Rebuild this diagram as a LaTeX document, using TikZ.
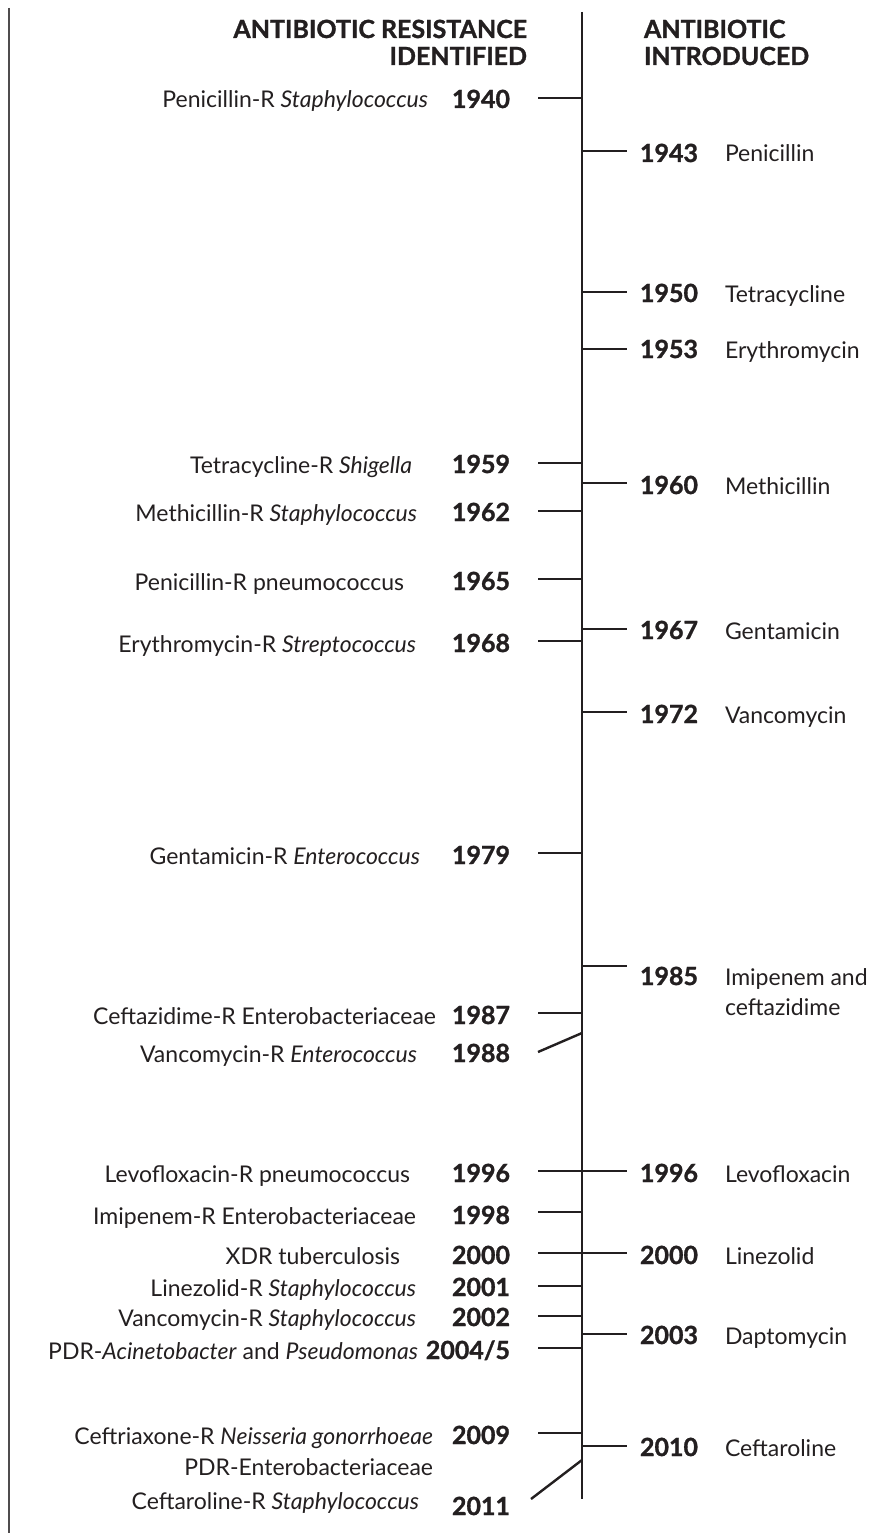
\documentclass[tikz,border=0pt]{standalone}
\usepackage{fontspec}
\setmainfont{Lato}
\newfontfamily\heavyfont{Lato}[FakeBold=1.2]
\definecolor{ink}{HTML}{231F20}
\tikzset{
  lab/.style={inner sep=0pt, outer sep=0pt, text=ink, font=\fontsize{23}{27}\selectfont},
  yr/.style={inner sep=0pt, outer sep=0pt, text=ink, font=\fontsize{25}{29}\heavyfont\bfseries},
  hd/.style={inner sep=0pt, outer sep=0pt, text=ink, font=\fontsize{25}{29}\heavyfont\bfseries},
  tickline/.style={draw=ink, line width=2.4pt},
  axisline/.style={draw=ink, line width=2.6pt},
  borderline/.style={draw=ink!80, line width=1.6pt}
}
% left entry: #1 name, #2 label, #3 label right x, #4 baseline y, #5 year, #6 tick y
\newcommand\lentry[6]{%
  \node[lab, anchor=base east] (ll#1) at (#3,#4) {#2};
  \node[yr, anchor=base east] (ly#1) at (510,#4) {#5};
  \coordinate (la#1) at (582,#6);
  \coordinate (lb#1) at (538,#6);
  \draw[tickline] (la#1) -- (lb#1);}
% right entry: #1 name, #2 label, #3 baseline y, #4 year, #5 tick y
\newcommand\rentry[5]{%
  \node[yr, anchor=base west] (ry#1) at (640,#3) {#4};
  \node[lab, anchor=base west] (rl#1) at (725,#3) {#2};
  \coordinate (ra#1) at (582,#5);
  \coordinate (rb#1) at (627,#5);
  \draw[tickline] (ra#1) -- (rb#1);}
\begin{document}
\begin{tikzpicture}[x=1pt, y=-1pt]
\useasboundingbox (0,0) rectangle (870,1533);
\fill[white] (0,0) rectangle (870,1533);
% frame line and axis
\coordinate (bordertop) at (9,8);
\coordinate (borderbot) at (9,1533);
\draw[borderline] (bordertop) -- (borderbot);
\coordinate (axtop) at (582,12);
\coordinate (axbot) at (582,1499);
\draw[axisline] (axtop) -- (axbot);
% headers
\node[hd, anchor=base east] (hl1) at (527,38) {ANTIBIOTIC RESISTANCE};
\node[hd, anchor=base east] (hl2) at (527,65) {IDENTIFIED};
\node[hd, anchor=base west] (hr1) at (644,38) {ANTIBIOTIC};
\node[hd, anchor=base west] (hr2) at (644,65) {INTRODUCED};
% left side: resistance identified
\lentry{1940}{Penicillin-R \textit{Staphylococcus}}{428}{108}{1940}{98}
\lentry{1959}{Tetracycline-R \textit{Shigella}}{412}{473}{1959}{463}
\lentry{1962}{Methicillin-R \textit{Staphylococcus}}{417}{521}{1962}{511}
\lentry{1965}{Penicillin-R pneumococcus}{404}{590}{1965}{579}
\lentry{1968}{Erythromycin-R \textit{Streptococcus}}{416}{652}{1968}{641}
\lentry{1979}{Gentamicin-R \textit{Enterococcus}}{420}{864}{1979}{853}
\lentry{1987}{Ceftazidime-R Enterobacteriaceae}{436}{1024}{1987}{1013}
\node[lab, anchor=base east] (ll1988) at (417,1062) {Vancomycin-R \textit{Enterococcus}};
\node[yr, anchor=base east] (ly1988) at (510,1062) {1988};
\coordinate (la1988) at (582,1033);
\coordinate (lb1988) at (538,1052);
\draw[tickline] (la1988) -- (lb1988);
\lentry{1996}{Levofloxacin-R pneumococcus}{410}{1182}{1996}{1171}
\lentry{1998}{Imipenem-R Enterobacteriaceae}{416}{1224}{1998}{1212}
\lentry{2000}{XDR tuberculosis}{400}{1264}{2000}{1253}
\lentry{2001}{Linezolid-R \textit{Staphylococcus}}{416}{1296}{2001}{1286}
\lentry{2002}{Vancomycin-R \textit{Staphylococcus}}{416}{1326}{2002}{1316}
\lentry{2004}{PDR-\textit{Acinetobacter} and \textit{Pseudomonas}}{418}{1359}{2004/5}{1348}
\lentry{2009}{Ceftriaxone-R \textit{Neisseria gonorrhoeae}}{433}{1444}{2009}{1433}
\node[lab, anchor=base east] (llpdr) at (433,1475) {PDR-Enterobacteriaceae};
\node[lab, anchor=base east] (ll2011) at (419,1509) {Ceftaroline-R \textit{Staphylococcus}};
\node[yr, anchor=base east] (ly2011) at (510,1515) {2011};
\coordinate (la2011) at (582,1460);
\coordinate (lb2011) at (531,1499);
\draw[tickline] (la2011) -- (lb2011);
% right side: antibiotic introduced
\rentry{1943}{Penicillin}{162}{1943}{151}
\rentry{1950}{Tetracycline}{302}{1950}{292}
\rentry{1953}{Erythromycin}{358}{1953}{349}
\rentry{1960}{Methicillin}{494}{1960}{483}
\rentry{1967}{Gentamicin}{639}{1967}{629}
\rentry{1972}{Vancomycin}{723}{1972}{712}
\rentry{1985}{Imipenem and}{985}{1985}{966}
\node[lab, anchor=base west] (rl1985b) at (725,1015) {ceftazidime};
\rentry{1996}{Levofloxacin}{1182}{1996}{1171}
\rentry{2000}{Linezolid}{1264}{2000}{1253}
\rentry{2003}{Daptomycin}{1344}{2003}{1334}
\rentry{2010}{Ceftaroline}{1456}{2010}{1446}
\end{tikzpicture}
\end{document}
